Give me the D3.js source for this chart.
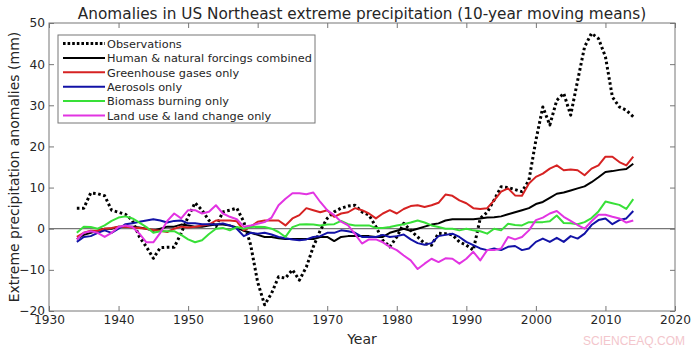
<!DOCTYPE html>
<html>
<head>
<meta charset="utf-8">
<script src="https://cdn.jsdelivr.net/npm/d3@7"></script>
<style>
  body { margin: 0; background: #fff; }
  svg text { font-family: "DejaVu Sans", sans-serif; fill: #262626; }
</style>
</head>
<body>
<svg id="chart" width="700" height="350"></svg>
<script>
/******** Data ********/
var years = d3.range(1934, 2015);

var observations = [5, 5, 8.7, 8.5, 8, 4.5, 4, 3.5, 2, -2, -4.4, -7.2, -4.6, -4.5, -4.5, -1.1,
  2.9, 6.3, 4.5, 2, 0.5, 4.1, 4.5, 5, 1.7, -4, -13, -18.5, -15.7, -11.7, -12, -10, -12.5, -9.3,
  -4.4, -0.4, 2.5, 4.1, 5, 5.5, 5.7, 4.1, 3.3, 0.5, -2.8, -4.4, -2, 1.3, -0.4, -2, -3.6, -4,
  -1.1, -1.2, -1.5, -3.2, -4, -5.2, 2.5, 4, 7, 10.2, 10, 9.5, 9, 11.8, 21.5, 29.6, 25.2, 31.2,
  32.9, 27.6, 36, 44.2, 47.5, 46.2, 41.8, 32, 29.6, 28.8, 27.2];

var combined = [-2.5, -1.5, -1, -0.5, 0, 0, 0.5, 0.5, 0.5, 0.3, 0, -0.5, 0, 0.5, 0.5, 1,
  0.8, 0.5, 0.5, 0.8, 1, 1, 0.8, 0.3, -0.5, -1, -1.5, -2, -2, -2.3, -2.5, -2.5, -2.5, -2.5,
  -2.5, -2, -2, -3, -2, -1.8, -1.8, -1.8, -1.8, -2, -2, -1, -0.5, 0, -0.5, 0, 0.5, 1,
  1.3, 2, 2.3, 2.3, 2.3, 2.3, 2.5, 2.7, 2.8, 3, 3.5, 4, 4.5, 5, 6, 6.5, 7.5, 8.5,
  8.8, 9.3, 9.8, 10.3, 11.3, 12.5, 13.8, 14, 14.3, 14.5, 15.8];

var greenhouse = [-2, -1, -0.5, -0.5, 0, 0.2, 0.5, 0.5, 0.3, 0.2, 0, -0.3, -0.5, -0.8, 0, 0.5,
  0.3, 0.5, 0.8, 1, 2, 2, 2, 1.8, -0.4, 0.5, 1.7, 2, 2, 2, 0.8, 2.5, 3.3, 5,
  4.5, 4, 4.5, 2.9, 3.7, 4, 5, 4.5, 3.7, 2.5, 3.7, 4.5, 3.7, 4.8, 5.5, 5.7, 5.3, 5.7,
  6.3, 8.3, 8, 6.9, 6.2, 5, 4.8, 5, 6.9, 9, 9.8, 8.1, 8, 11, 12.6, 13.4, 14.6, 15.4,
  14.2, 14.4, 14.2, 13, 14.6, 15.4, 17.5, 17.5, 16.2, 15.4, 17.5];

var aerosols = [-3.2, -2, -1.8, -1, -0.4, -1, 0, 1.1, 1.3, 1.7, 2, 2.3, 2, 1.5, 1.9, 2,
  1.3, 1.3, 1.1, 1.1, 1, 1.3, 0.8, 0, -1.8, -1, -1.2, -1, -1.4, -2, -2.3, -2.6, -2.8, -2.6,
  -2, -1.8, -1, -1, -0.4, -0.6, -1, -2, -2, -2, -1.5, -2, -1.8, -1.4, -2.6, -3.5, -3.9, -3.5,
  -1.8, -1.5, -1.2, -2, -3.2, -4, -4.8, -5.2, -4.8, -5.2, -4.4, -4.2, -5.2, -4.8, -3.2, -2.4, -3.2, -2.2,
  -3.2, -1.8, -2.4, -1.2, 0.9, 2.1, 2.5, 1.1, 2.1, 2.5, 4.3];

var biomass = [-1, 0.5, 0.4, 0, 0.8, 1.9, 2.7, 3, 2.5, 1.5, 0.4, -1, -0.6, -0.6, -0.6, -1.5,
  -2.6, -3.3, -2.8, -1.3, 0, 0.2, -0.4, 0.4, 0, 0.4, 0.5, 0.4, 0, -0.8, -2, 0.4, 1, 1.1,
  1, 0.8, 1, 1.1, 1.9, 1.1, 0.8, 0.8, 0.8, 0.2, 0.2, 0.4, 0.8, 1.1, 1.5, 2, 1.5, 0.8,
  0.4, 0, 0, -0.4, 0, -0.4, -0.6, -1.2, 0, -0.4, 1.2, 0.9, 0.8, 1.6, 1.6, 1.6, 1.8, 3.2,
  1.4, 1.3, 1.1, 1.6, 2.6, 4.2, 6.6, 6.2, 5.8, 4.8, 7.2];

var landUse = [-2.6, -1, -0.6, -1, -2, -1, 0.4, 0.8, 0.4, -1.2, -3.3, -3.3, -1, 1.9, 3.7, 2.5,
  4.5, 4.5, 3.7, 4.1, 5.7, 3.7, 2.9, 2.3, 0.5, 0.8, 1.2, 1.6, 2.7, 5.7, 7.3, 8.6, 8.6, 8.4,
  8.8, 6.5, 4.5, 3.3, 1.7, 0.8, -1.3, -3.6, -2.6, -2.6, -3.3, -4.4, -5.2, -6.5, -7.7, -9.8, -8.5, -7.3,
  -8.1, -7.2, -7.3, -8.5, -7.3, -5.6, -7.7, -5.2, -5.2, -4.8, -2, -2.6, -2, -0.4, 2.1, 2.7, 3.7, 4.3,
  2.9, 1.9, 0.9, 0, 1.8, 3.4, 3.4, 2.9, 2.5, 1.5, 2];

var seriesNames = ["Observations", "Human & natural forcings combined", "Greenhouse gases only",
  "Aerosols only", "Biomass burning only", "Land use & land change only"];
var seriesValues = [observations, combined, greenhouse, aerosols, biomass, landUse];
var seriesColors = ["#000000", "#000000", "#d62222", "#1212a6", "#38e038", "#e234e2"];

var xTicks = d3.range(1930, 2021, 10);
var yTicks = d3.range(-20, 51, 10);

/******** Scales ********/
var svg = d3.select("#chart");
var plotLeft = 49, plotRight = 675, plotTop = 23, plotBottom = 311;

var x = d3.scaleLinear().domain([1930, 2020]).range([plotLeft, plotRight]);
var y = d3.scaleLinear().domain([-20, 50]).range([plotBottom, plotTop]);

// zero line
svg.append("line")
  .attr("x1", plotLeft).attr("x2", plotRight)
  .attr("y1", y(0)).attr("y2", y(0))
  .attr("stroke", "#555").attr("stroke-width", 1);

/******** Lines ********/
var line = d3.line()
  .x((d, i) => x(years[i]))
  .y(d => y(d));

seriesValues.forEach(function (vals, k) {
  svg.append("path")
    .attr("d", line(vals))
    .attr("fill", "none")
    .attr("stroke", seriesColors[k])
    .attr("stroke-width", k == 0 ? 3 : 2)
    .attr("stroke-dasharray", k == 0 ? "2.6,2.6" : null)
    .attr("stroke-linejoin", "round");
});

/******** Axes ********/
function styleAxis(g) {
  g.select(".domain").remove();
  g.selectAll(".tick line").attr("stroke", "#777");
  g.selectAll("text").style("font-size", "12.2px").attr("fill", "#262626");
}

svg.append("g")
  .attr("transform", "translate(0," + plotBottom + ")")
  .call(d3.axisBottom(x).tickValues(xTicks).tickFormat(d3.format("d")).tickSizeInner(-5).tickPadding(4))
  .call(styleAxis);

svg.append("g")
  .attr("transform", "translate(0," + plotTop + ")")
  .call(d3.axisTop(x).tickValues(xTicks).tickFormat("").tickSizeInner(-5))
  .call(styleAxis);

svg.append("g")
  .attr("transform", "translate(" + plotLeft + ",0)")
  .call(d3.axisLeft(y).tickValues(yTicks).tickSizeInner(-5).tickPadding(4))
  .call(styleAxis);

svg.append("g")
  .attr("transform", "translate(" + plotRight + ",0)")
  .call(d3.axisRight(y).tickValues(yTicks).tickFormat("").tickSizeInner(-5))
  .call(styleAxis);

svg.append("rect")
  .attr("x", plotLeft).attr("y", plotTop)
  .attr("width", plotRight - plotLeft).attr("height", plotBottom - plotTop)
  .attr("fill", "none").attr("stroke", "#777");

/******** Titles ********/
svg.append("text")
  .text("Anomalies in US Northeast extreme precipitation (10-year moving means)")
  .attr("x", (plotLeft + plotRight) / 2).attr("y", 19)
  .attr("text-anchor", "middle")
  .style("font-size", "15.3px");

svg.append("text")
  .text("Year")
  .attr("x", (plotLeft + plotRight) / 2).attr("y", 344)
  .attr("text-anchor", "middle")
  .style("font-size", "14px");

svg.append("text")
  .text("Extreme precipitation anomalies (mm)")
  .attr("transform", "translate(19," + ((plotTop + plotBottom) / 2) + ") rotate(-90)")
  .attr("text-anchor", "middle")
  .style("font-size", "14px");

/******** Legend ********/
var legend = svg.append("g");
legend.append("rect")
  .attr("x", 58).attr("y", 35)
  .attr("width", 257).attr("height", 88)
  .attr("fill", "#fff").attr("stroke", "#777");

seriesNames.forEach(function (name, k) {
  var ly = 43.5 + k * 14.4;
  legend.append("line")
    .attr("x1", 63).attr("x2", 105)
    .attr("y1", ly).attr("y2", ly)
    .attr("stroke", seriesColors[k])
    .attr("stroke-width", k == 0 ? 3 : 2)
    .attr("stroke-dasharray", k == 0 ? "2.6,2" : null);
  legend.append("text")
    .text(name)
    .attr("x", 107).attr("y", ly + 4.3)
    .style("font-size", "11.3px");
});

// watermark
svg.append("text")
  .text("SCIENCEAQ.COM")
  .attr("x", 685).attr("y", 345)
  .attr("text-anchor", "end")
  .style("font-family", "Liberation Sans Narrow, Liberation Sans, sans-serif")
  .style("font-size", "12px")
  .style("fill", "#f3c6cc");
</script>
</body>
</html>
